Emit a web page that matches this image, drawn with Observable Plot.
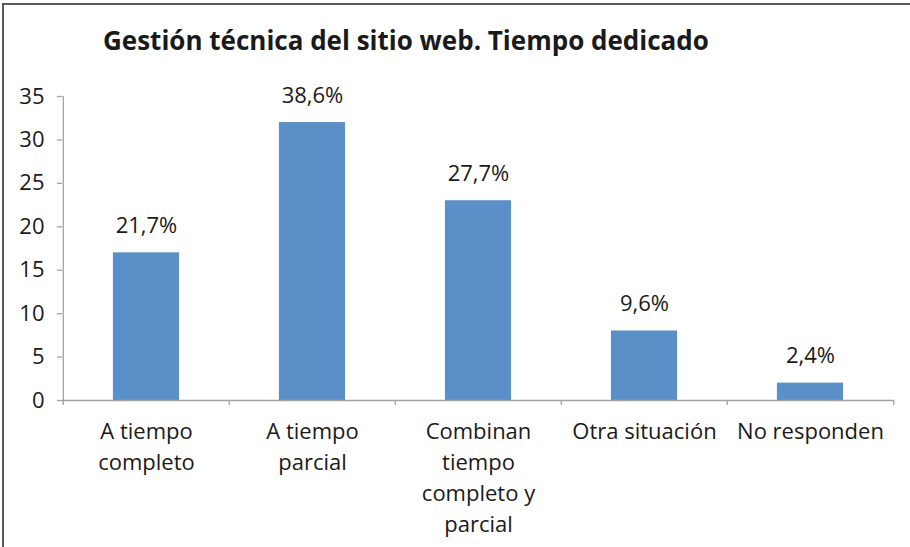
<!DOCTYPE html>
<html>
<head>
<meta charset="utf-8">
<script src="https://cdn.jsdelivr.net/npm/d3@7"></script>
<script src="https://cdn.jsdelivr.net/npm/@observablehq/plot@0.6"></script>
<style>
  html, body { margin: 0; padding: 0; background: #fff; }
  #wrap { position: relative; width: 910px; height: 547px; overflow: hidden; font-family: "Open Sans", Lato, sans-serif; color: #1a1a1a; }
  #bt { position: absolute; left: 2px; top: 3px; width: 908px; height: 2px; background: #5a5a5a; }
  #bl { position: absolute; left: 2px; top: 3px; width: 2px; height: 544px; background: #5a5a5a; }
  #title { position: absolute; left: 103px; top: 25px; font-size: 26px; font-weight: bold; line-height: 30px; white-space: nowrap; }
  #chart { position: absolute; left: 0; top: 70px; }
</style>
</head>
<body>
<div id="wrap">
  <div id="bt"></div>
  <div id="bl"></div>
  <div id="title">Gestión técnica del sitio web. Tiempo dedicado</div>
  <div id="chart"></div>
</div>
<script>
const categories = ["A tiempo completo", "A tiempo parcial", "Combinan tiempo completo y parcial", "Otra situación", "No responden"];
const categoryLabels = ["A tiempo\ncompleto", "A tiempo\nparcial", "Combinan\ntiempo\ncompleto y\nparcial", "Otra situación", "No responden"];
const values = [17, 32, 23, 8, 2];
const percentLabels = ["21,7%", "38,6%", "27,7%", "9,6%", "2,4%"];
const yTicks = [0, 5, 10, 15, 20, 25, 30, 35];

const data = categories.map((c, i) => ({category: c, value: values[i], label: percentLabels[i]}));
const labelOf = new Map(categories.map((c, i) => [c, categoryLabels[i]]));

const W = 910, H = 477, ML = 62, MR = 16, MT = 26, MB = 147;
const bw = (W - ML - MR) / categories.length;
const axisColor = "#a3a3a3";
const barColor = "#5b8fc7";
const font = "'Open Sans', Lato, sans-serif";

const chart = Plot.plot({
  width: W,
  height: H,
  marginLeft: ML,
  marginRight: MR,
  marginTop: MT,
  marginBottom: MB,
  style: {fontFamily: font, color: "#1a1a1a", background: "transparent"},
  x: {domain: categories, padding: 0, label: null},
  y: {domain: [0, 35], label: null},
  marks: [
    Plot.barY(data, {x: "category", y: "value", fill: barColor, insetLeft: bw * 0.3, insetRight: bw * 0.3}),
    Plot.ruleY([0], {stroke: axisColor, strokeWidth: 1.3}),
    Plot.ruleX([categories[0]], {x: d => d, y1: 0, y2: 35, dx: -bw / 2, stroke: axisColor, strokeWidth: 1.3}),
    Plot.ruleX(categories, {x: d => d, y1: 0, y2: 0, dx: -bw / 2, insetBottom: -5, stroke: axisColor, strokeWidth: 1.3}),
    Plot.ruleX([categories[categories.length - 1]], {x: d => d, y1: 0, y2: 0, dx: bw / 2, insetBottom: -5, stroke: axisColor, strokeWidth: 1.3}),
    Plot.axisY({ticks: yTicks, tickSize: 5, tickPadding: 13, fontSize: 22, stroke: axisColor, strokeWidth: 1.3, label: null, tickFormat: d => String(d)}),
    Plot.axisX({tickSize: 0, tickPadding: 17, fontSize: 22, lineHeight: 1.4, label: null, tickFormat: d => labelOf.get(d)}),
    Plot.text(data, {x: "category", y: "value", text: "label", dy: -27, fontSize: 22, lineAnchor: "middle", fill: "#1a1a1a"})
  ]
});
document.getElementById("chart").appendChild(chart);
</script>
</body>
</html>
